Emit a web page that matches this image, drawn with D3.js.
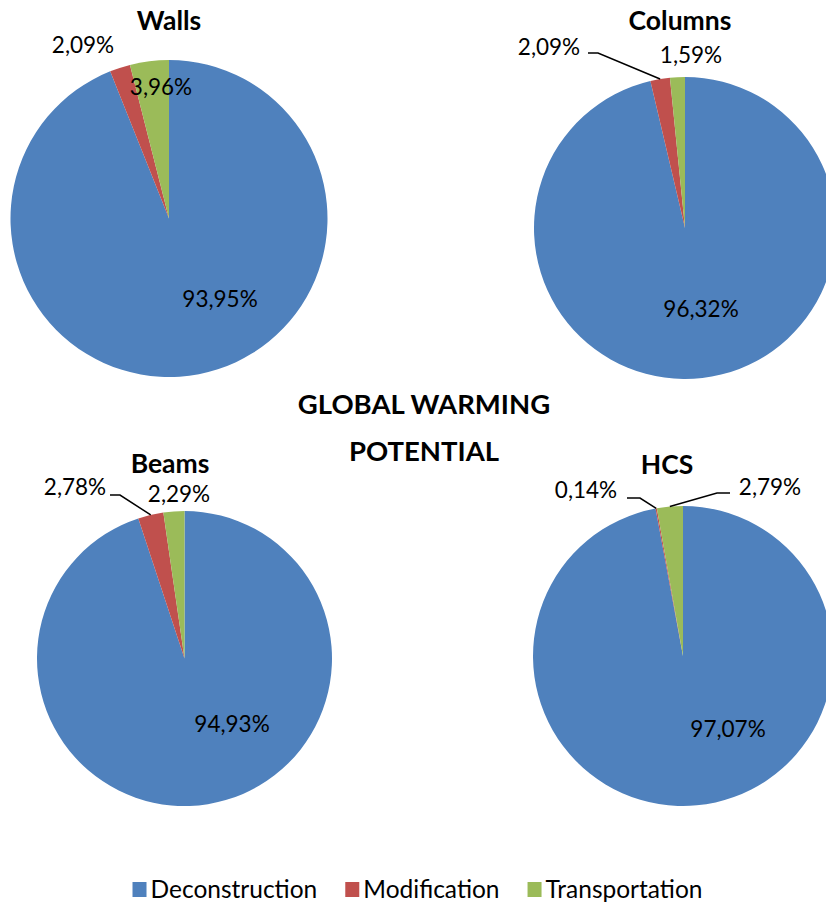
<!DOCTYPE html>
<html>
<head>
<meta charset="utf-8">
<script src="https://cdn.jsdelivr.net/npm/d3@7"></script>
<style>
  html, body { margin: 0; padding: 0; background: #fff; }
  svg { display: block; }
  text { font-family: Lato, "Open Sans", sans-serif; fill: #000; }
</style>
</head>
<body>
<script>
// ---- data ----
const categories = ["Deconstruction", "Modification", "Transportation"];
const chartTitles = ["Walls", "Columns", "Beams", "HCS"];
const wallsValues   = [93.95, 2.09, 3.96];
const columnsValues = [96.32, 2.09, 1.59];
const beamsValues   = [94.93, 2.78, 2.29];
const hcsValues     = [97.07, 0.14, 2.79];
const mainTitle = ["GLOBAL WARMING", "POTENTIAL"];
const colors = ["#4F81BD", "#C0504D", "#9BBB59"];

// ---- layout (positions only) ----
const W = 826, H = 908;
const layout = [
  { cx: 169, cy: 218.5, r: 158.5, title: [169, 30],
    labels: [ {x: 220, y: 307}, {x: 83, y: 53}, {x: 161, y: 95} ],
    leaders: [null, null, null] },
  { cx: 685, cy: 228, r: 151, title: [680, 30],
    labels: [ {x: 701, y: 317}, {x: 549, y: 55}, {x: 691, y: 63} ],
    leaders: [null, {sx: 588, sy: 53, ex: 598, ey: 53}, null] },
  { cx: 184.5, cy: 658.5, r: 147.5, title: [170, 473],
    labels: [ {x: 232, y: 732}, {x: 75, y: 495}, {x: 179, y: 502} ],
    leaders: [null, {sx: 110, sy: 495, ex: 120, ey: 495}, null] },
  { cx: 683, cy: 656, r: 150, title: [667, 474],
    labels: [ {x: 728, y: 737}, {x: 586, y: 498}, {x: 770, y: 495} ],
    leaders: [null, {sx: 627, sy: 498, ex: 640, ey: 498}, {sx: 730, sy: 493, ex: 717, ey: 493}] }
];

const seriesList = [wallsValues, columnsValues, beamsValues, hcsValues];

const svg = d3.select("body").append("svg").attr("width", W).attr("height", H);

const pie = d3.pie().sort(null).value(d => d);
const fmt = v => v.toFixed(2).replace(".", ",") + "%";

seriesList.forEach((vals, i) => {
  const L = layout[i];
  const g = svg.append("g").attr("transform", `translate(${L.cx},${L.cy})`);
  const arc = d3.arc().innerRadius(0).outerRadius(L.r);
  const arcs = pie(vals);
  g.selectAll("path").data(arcs).join("path")
    .attr("d", arc)
    .attr("fill", (d, j) => colors[j]);

  // leader lines
  arcs.forEach((d, j) => {
    const ld = L.leaders[j];
    if (!ld) return;
    const mid = (d.startAngle + d.endAngle) / 2;
    const px = L.cx + L.r * Math.sin(mid);
    const py = L.cy - L.r * Math.cos(mid);
    svg.append("polyline")
      .attr("points", `${ld.sx},${ld.sy} ${ld.ex},${ld.ey} ${px},${py}`)
      .attr("fill", "none").attr("stroke", "#000").attr("stroke-width", 1.5);
  });

  // labels
  arcs.forEach((d, j) => {
    const lb = L.labels[j];
    svg.append("text")
      .attr("x", lb.x).attr("y", lb.y)
      .attr("text-anchor", "middle")
      .style("font-size", "22.5px")
      .text(fmt(vals[j]));
  });

  // title
  svg.append("text")
    .attr("x", L.title[0]).attr("y", L.title[1])
    .attr("text-anchor", "middle")
    .style("font-size", "26.5px").style("font-weight", "bold")
    .text(chartTitles[i]);
});

// main title
mainTitle.forEach((t, k) => {
  svg.append("text")
    .attr("x", 424).attr("y", 414 + k * 47)
    .attr("text-anchor", "middle")
    .style("font-size", "27.5px").style("font-weight", "bold")
    .text(t);
});

// legend
const leg = svg.append("g");
const items = leg.selectAll("g").data(categories).join("g");
items.append("rect").attr("width", 14).attr("height", 15).attr("y", -16)
  .attr("fill", (d, j) => colors[j]);
items.append("text").attr("x", 18).attr("y", 0)
  .style("font-size", "24.5px").text(d => d);
let xpos = 0;
const gap = 28;
items.each(function() {
  const el = d3.select(this);
  el.attr("transform", `translate(${xpos},0)`);
  xpos += 18 + el.select("text").node().getComputedTextLength() + gap;
});
const total = xpos - gap;
leg.attr("transform", `translate(${(127 + 708) / 2 - total / 2},898)`);
</script>
</body>
</html>
